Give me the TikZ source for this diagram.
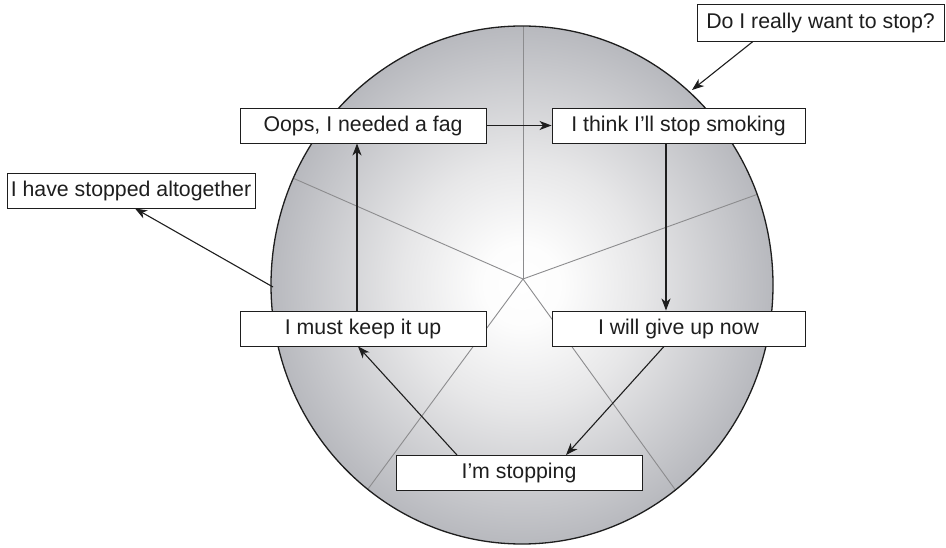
\documentclass[tikz,border=0pt]{standalone}
\usepackage{fontspec}
\setmainfont{Liberation Sans}
\usetikzlibrary{arrows.meta}
\pgfdeclareradialshading{ballshade}{\pgfpoint{0bp}{0bp}}{rgb(0bp)=(1,1,1); rgb(4bp)=(0.99,0.99,0.99); rgb(12bp)=(0.905,0.905,0.91); rgb(25bp)=(0.72,0.725,0.745); rgb(50bp)=(0.72,0.725,0.745)}
\definecolor{inkc}{RGB}{30,30,30}
\definecolor{spokec}{RGB}{140,140,142}
\tikzset{
  box/.style={draw=inkc, fill=white, line width=0.9pt, minimum height=35pt, inner sep=0pt, text=inkc, font=\fontsize{21.3}{25}\selectfont},
  flow/.style={draw=inkc, line width=1.1pt, -{Stealth[length=12pt,width=9pt,inset=3.5pt]}},
  spoke/.style={draw=spokec, line width=0.9pt}
}
\begin{document}
\begin{tikzpicture}[x=1pt,y=-1pt]
\useasboundingbox (0,0) rectangle (946,548);
% ball
\shade[shading=ballshade] (522,285) ellipse [x radius=251pt, y radius=259pt];
\begin{scope}
  \clip (522,285) ellipse [x radius=251pt, y radius=259pt];
  \coordinate (hub) at (523,279);
  \draw[spoke] (hub) -- ++(0,-300);
  \draw[spoke] (hub) -- ++(-456,-200);
  \draw[spoke] (hub) -- ++(454,-164);
  \draw[spoke] (hub) -- ++(-310,420);
  \draw[spoke] (hub) -- ++(302,418);
\end{scope}
\draw[draw=inkc, line width=1.3pt] (522,285) ellipse [x radius=251pt, y radius=259pt];
% boxes
\node[box, minimum width=246pt] (oops) at (363,125.5) {Oops, I needed a fag};
\node[box, minimum width=253pt] (think) at (678.5,125.5) {I think I’ll stop smoking};
\node[box, minimum width=246pt] (keep) at (363,328.5) {I must keep it up};
\node[box, minimum width=253pt] (will) at (678.5,328.5) {I will give up now};
\node[box, minimum width=246pt] (stop) at (519,473) {I’m stopping};
\node[box, minimum width=248pt] (alt) at (131,190.5) {I have stopped altogether};
\node[box, minimum width=247pt, minimum height=37pt] (doi) at (820.5,22.5) {Do I really want to stop?};
% free ends on the ball
\coordinate (eL) at (273,287);
\coordinate (eR) at (692,90);
% connectors
\draw[flow] (oops.east) -- (think.west);
\draw[flow] (think.south -| 666,0) -- (will.north -| 666,0);
\draw[flow] (will.south -| 664,0) -- (stop.north -| 566,0);
\draw[flow] (stop.north -| 457,0) -- (keep.south -| 358,0);
\draw[flow] (keep.north -| 357,0) -- (oops.south -| 357,0);
\draw[flow] (eL) -- (alt.south -| 135,0);
\draw[flow] (doi.south -| 753,0) -- (eR);
\end{tikzpicture}
\end{document}
